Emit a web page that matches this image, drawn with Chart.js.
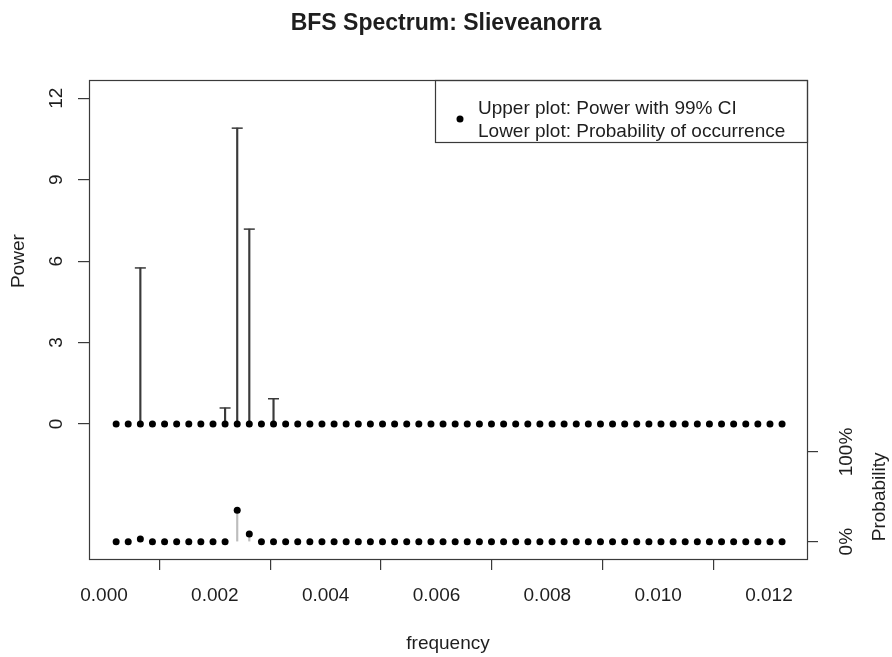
<!DOCTYPE html>
<html>
<head>
<meta charset="utf-8">
<title>BFS Spectrum: Slieveanorra</title>
<script src="https://cdn.jsdelivr.net/npm/chart.js@4/dist/chart.umd.min.js"></script>
<style>
  html, body { margin: 0; padding: 0; background: #fff; }
  #wrap { position: relative; width: 892px; height: 657px; }
</style>
</head>
<body>
<div id="wrap"><canvas id="chart"></canvas></div>
<script>
// frequency of each spectral line
const frequency = [
  0.000219, 0.000437, 0.000656, 0.000874, 0.001093, 0.001311, 0.001530, 0.001748,
  0.001967, 0.002185, 0.002404, 0.002622, 0.002841, 0.003059, 0.003278, 0.003496,
  0.003715, 0.003933, 0.004152, 0.004370, 0.004589, 0.004807, 0.005026, 0.005244,
  0.005463, 0.005681, 0.005900, 0.006118, 0.006337, 0.006555, 0.006774, 0.006992,
  0.007211, 0.007429, 0.007648, 0.007866, 0.008085, 0.008303, 0.008522, 0.008740,
  0.008959, 0.009177, 0.009396, 0.009614, 0.009833, 0.010051, 0.010270, 0.010488,
  0.010707, 0.010925, 0.011144, 0.011362, 0.011581, 0.011799, 0.012018, 0.012236
];
// upper plot: power (median) and upper 99% CI
const power = [
  0, 0, 0, 0, 0, 0, 0, 0, 0, 0, 0, 0, 0, 0,
  0, 0, 0, 0, 0, 0, 0, 0, 0, 0, 0, 0, 0, 0,
  0, 0, 0, 0, 0, 0, 0, 0, 0, 0, 0, 0, 0, 0,
  0, 0, 0, 0, 0, 0, 0, 0, 0, 0, 0, 0, 0, 0
];
const powerUpper = [
  0, 0, 5.75, 0, 0, 0, 0, 0, 0, 0.59, 10.9, 7.18, 0, 0.93,
  0, 0, 0, 0, 0, 0, 0, 0, 0, 0, 0, 0, 0, 0,
  0, 0, 0, 0, 0, 0, 0, 0, 0, 0, 0, 0, 0, 0,
  0, 0, 0, 0, 0, 0, 0, 0, 0, 0, 0, 0, 0, 0
];
// lower plot: probability of occurrence (%)
const probability = [
  0, 0, 3, 0, 0, 0, 0, 0, 0, 0, 35, 8.5, 0, 0,
  0, 0, 0, 0, 0, 0, 0, 0, 0, 0, 0, 0, 0, 0,
  0, 0, 0, 0, 0, 0, 0, 0, 0, 0, 0, 0, 0, 0,
  0, 0, 0, 0, 0, 0, 0, 0, 0, 0, 0, 0, 0, 0
];
const freqTicks = [0, 0.002, 0.004, 0.006, 0.008, 0.010, 0.012];
const powerTicks = [0, 3, 6, 9, 12];
const probTicks = [0, 100];
const legendLines = ['Upper plot: Power with 99% CI', 'Lower plot: Probability of occurrence'];

const FONT = '"Liberation Sans", Arial, Helvetica, sans-serif';
const INK = '#1e1e1e';
const LINE = '#3a3a3a';

const powerPts = frequency.map((f, i) => ({ x: f, y: power[i] }));
const probPts = frequency.map((f, i) => ({ x: f, y: probability[i] }));
const ciBars = frequency.map((f, i) => ({ x: f, y: [power[i], powerUpper[i]] })).filter(d => d.y[1] > 0);
const ciCaps = frequency.map((f, i) => ({ x: f, y: powerUpper[i] })).filter(d => d.y > 0);
const probStems = frequency.map((f, i) => ({ x: f, y: [0, probability[i]] })).filter(d => d.y[1] > 0);

// box round the plot, the legend and the two rotated axis titles
const decorations = {
  id: 'decorations',
  afterDraw(chart) {
    const { ctx, chartArea: a, scales } = chart;
    ctx.save();
    ctx.strokeStyle = LINE;
    ctx.lineWidth = 1.2;
    ctx.strokeRect(a.left + 0.5, a.top + 0.5, a.right - a.left, a.bottom - a.top);

    // legend
    ctx.strokeRect(435.5, a.top + 0.5, a.right - 435, 62);
    ctx.fillStyle = '#000';
    ctx.beginPath();
    ctx.arc(460, 119, 3.5, 0, Math.PI * 2);
    ctx.fill();
    ctx.fillStyle = INK;
    ctx.font = '19px ' + FONT;
    ctx.textAlign = 'left';
    ctx.textBaseline = 'middle';
    ctx.fillText(legendLines[0], 478, 109);
    ctx.fillText(legendLines[1], 478, 132);

    // axis titles, centred on their own ranges
    ctx.textAlign = 'center';
    ctx.save();
    ctx.translate(18.5, scales.y.getPixelForValue(6));
    ctx.rotate(-Math.PI / 2);
    ctx.fillText('Power', 0, 0);
    ctx.restore();
    ctx.save();
    ctx.translate(879.5, scales.y2.getPixelForValue(50));
    ctx.rotate(-Math.PI / 2);
    ctx.fillText('Probability', 0, 0);
    ctx.restore();
    ctx.restore();
  }
};

const tickGrid = { display: true, drawOnChartArea: false, drawTicks: true, tickLength: 11, color: LINE, lineWidth: 1.2 };

new Chart(document.getElementById('chart'), {
  type: 'scatter',
  data: {
    datasets: [
      { data: powerPts, pointRadius: 3.5, pointBackgroundColor: '#000', pointBorderWidth: 0, yAxisID: 'y' },
      { data: probPts, pointRadius: 3.5, pointBackgroundColor: '#000', pointBorderWidth: 0, yAxisID: 'y2' },
      { data: ciCaps, pointStyle: 'line', pointRadius: 5.5, pointBorderColor: LINE, pointBorderWidth: 1.5, yAxisID: 'y' },
      { type: 'bar', data: ciBars, backgroundColor: LINE, barThickness: 1.5, grouped: false, yAxisID: 'y' },
      { type: 'bar', data: probStems, backgroundColor: '#bdbdbd', barThickness: 1.5, grouped: false, yAxisID: 'y2' }
    ]
  },
  options: {
    responsive: true,
    maintainAspectRatio: false,
    animation: false,
    events: [],
    layout: { padding: 0 },
    plugins: {
      legend: { display: false },
      tooltip: { enabled: false },
      title: {
        display: true,
        text: 'BFS Spectrum: Slieveanorra',
        color: INK,
        font: { family: FONT, size: 23, weight: 'bold', lineHeight: 1.2 },
        padding: { top: 10.2, bottom: 42.2 }
      }
    },
    scales: {
      x: {
        type: 'linear',
        position: 'bottom',
        min: -0.0002707,
        max: 0.012686,
        offset: false,
        afterBuildTicks: s => { s.ticks = freqTicks.map(v => ({ value: v })); },
        afterFit: s => { s.height = 98; },
        ticks: { color: INK, padding: 14.6, maxRotation: 0, autoSkip: false,
                 font: { family: FONT, size: 19 }, callback: v => v.toFixed(3) },
        grid: tickGrid,
        border: { display: false },
        title: { display: true, text: 'frequency', color: INK,
                 font: { family: FONT, size: 19, lineHeight: 1.2 }, padding: { top: 0, bottom: 1.6 } }
      },
      y: {
        type: 'linear',
        position: 'left',
        min: -4.974,
        max: 12.674,
        afterBuildTicks: s => { s.ticks = powerTicks.map(v => ({ value: v })); },
        afterFit: s => { s.width = 89; },
        ticks: { color: INK, padding: 10.9, minRotation: 90, maxRotation: 90, crossAlign: 'center',
                 autoSkip: false, font: { family: FONT, size: 19 }, callback: v => String(v) },
        grid: tickGrid,
        border: { display: false }
      },
      y2: {
        type: 'linear',
        position: 'right',
        min: -19.3,
        max: 514.7,
        afterBuildTicks: s => { s.ticks = probTicks.map(v => ({ value: v })); },
        afterFit: s => { s.width = 85; },
        ticks: { color: INK, padding: 4.2, minRotation: 90, maxRotation: 90, crossAlign: 'center',
                 autoSkip: false, font: { family: FONT, size: 19 }, callback: v => v + '%' },
        grid: tickGrid,
        border: { display: false }
      }
    }
  },
  plugins: [decorations]
});
</script>
</body>
</html>
